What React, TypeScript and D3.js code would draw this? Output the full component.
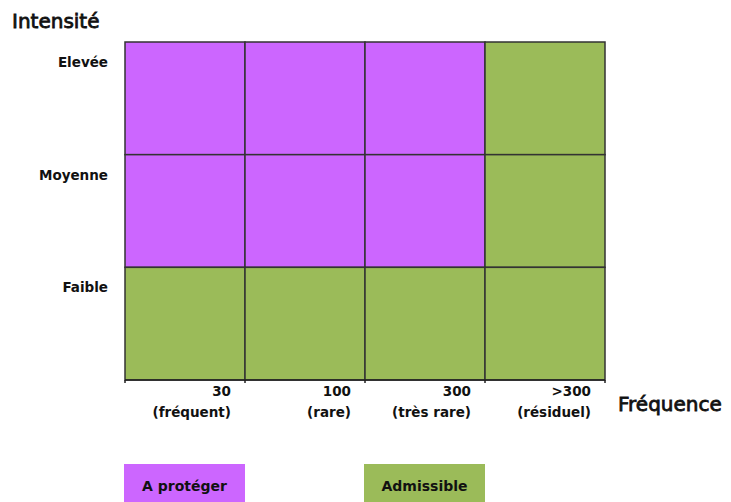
import React from "react";
import * as d3 from "d3";

const frequencies = ["30", "100", "300", ">300"];
const frequencyNotes = ["(fréquent)", "(rare)", "(très rare)", "(résiduel)"];
const intensities = ["Elevée", "Moyenne", "Faible"];
// status per [intensity][frequency]
const status = [
  ["A protéger", "A protéger", "A protéger", "Admissible"],
  ["A protéger", "A protéger", "A protéger", "Admissible"],
  ["Admissible", "Admissible", "Admissible", "Admissible"],
];
const legendItems = ["A protéger", "Admissible"];

const W = 731;
const H = 502;
const FONT = "'DejaVu Sans', sans-serif";

export default function App() {
  const x = d3.scaleBand<string>().domain(frequencies).range([125, 605]).padding(0);
  const y = d3.scaleBand<string>().domain(intensities).range([42, 380]).padding(0);
  const color = d3.scaleOrdinal<string, string>().domain(legendItems).range(["#CC66FF", "#9BBB59"]);

  const cells: { f: string; i: string; s: string }[] = [];
  intensities.forEach((i, ri) =>
    frequencies.forEach((f, ci) => cells.push({ f, i, s: status[ri][ci] }))
  );
  const bw = x.bandwidth();
  const bh = y.bandwidth();
  const legendPos = [x(frequencies[0])! - 1, x(frequencies[2])! - 1];

  return (
    <svg
      width={W}
      height={H}
      style={{ position: "absolute", left: 0, top: 0, background: "#fff" }}
      fontFamily={FONT}
    >
      {cells.map((c, k) => (
        <rect
          key={k}
          x={x(c.f)}
          y={y(c.i)}
          width={bw}
          height={bh}
          fill={color(c.s)}
          stroke="#333"
          strokeWidth={1.5}
        />
      ))}
      <line x1={125} x2={605} y1={380} y2={380} stroke="#222" strokeWidth={1.5} />
      {frequencies.map((f) => (
        <line key={"t" + f} x1={x(f)!} x2={x(f)!} y1={380} y2={383} stroke="#222" strokeWidth={1.5} />
      ))}
      <line x1={605} x2={605} y1={380} y2={383} stroke="#222" strokeWidth={1.5} />
      {frequencies.map((f, k) => (
        <g key={"l" + f}>
          <text x={x(f)! + bw - 14} y={396} textAnchor="end" fontSize={13.5} fontWeight="bold" fill="#111">
            {f}
          </text>
          <text x={x(f)! + bw - 14} y={417} textAnchor="end" fontSize={13.5} fontWeight="bold" fill="#111">
            {frequencyNotes[k]}
          </text>
        </g>
      ))}
      {intensities.map((i) => (
        <text key={i} x={108} y={y(i)! + 25} textAnchor="end" fontSize={13.5} fontWeight="bold" fill="#111">
          {i}
        </text>
      ))}
      <text x={12} y={28} fontSize={20} fill="#111" stroke="#111" strokeWidth={0.8}>
        Intensité
      </text>
      <text x={618} y={411} fontSize={20} fill="#111" stroke="#111" strokeWidth={0.8}>
        Fréquence
      </text>
      {legendItems.map((l, k) => (
        <g key={l}>
          <rect x={legendPos[k]} y={464} width={121} height={40} fill={color(l)} />
          <text
            x={legendPos[k] + 60.5}
            y={491}
            textAnchor="middle"
            fontSize={14}
            fontWeight="bold"
            fill="#111"
          >
            {l}
          </text>
        </g>
      ))}
    </svg>
  );
}
